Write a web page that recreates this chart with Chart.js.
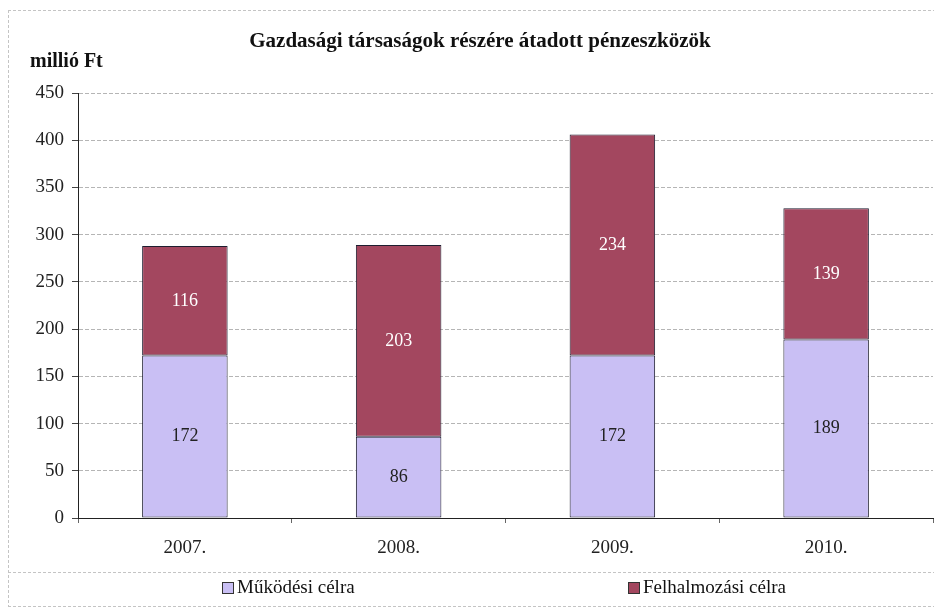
<!DOCTYPE html>
<html>
<head>
<meta charset="utf-8">
<script src="https://cdn.jsdelivr.net/npm/chart.js@4.4.1/dist/chart.umd.min.js"></script>
<style>
  html, body { margin: 0; padding: 0; background: #fff; }
  #wrap { width: 934px; height: 611px; position: relative; }
</style>
</head>
<body>
<div id="wrap"><canvas id="c" width="934" height="611"></canvas></div>
<script>
const years = ['2007.', '2008.', '2009.', '2010.'];
const mukodesi = [172, 86, 172, 189];
const felhalmozasi = [116, 203, 234, 139];
const yTicks = [0, 50, 100, 150, 200, 250, 300, 350, 400, 450];

const serif = '"Liberation Serif", "Times New Roman", serif';

// value labels, title, unit text, legend and the frame lines
const extras = {
  id: 'extras',
  afterDatasetsDraw(chart) {
    const ctx = chart.ctx;
    ctx.save();
    ctx.font = '18px ' + serif;
    ctx.textAlign = 'center';
    ctx.textBaseline = 'middle';
    chart.data.datasets.forEach((ds, di) => {
      const meta = chart.getDatasetMeta(di);
      meta.data.forEach((bar, i) => {
        ctx.fillStyle = di === 0 ? '#222' : '#fff';
        ctx.fillText(ds.data[i], bar.x, (bar.y + bar.base) / 2);
      });
    });
    ctx.restore();
  },
  afterDraw(chart) {
    const ctx = chart.ctx;
    ctx.save();
    // frame
    ctx.strokeStyle = '#c4c4c4';
    ctx.lineWidth = 1;
    ctx.setLineDash([3, 2]);
    ctx.beginPath();
    ctx.moveTo(8, 10.5); ctx.lineTo(934, 10.5);
    ctx.moveTo(8.5, 10); ctx.lineTo(8.5, 607);
    ctx.moveTo(8, 572.5); ctx.lineTo(934, 572.5);
    ctx.moveTo(8, 606.5); ctx.lineTo(934, 606.5);
    ctx.stroke();
    ctx.setLineDash([]);

    ctx.fillStyle = '#111';
    ctx.textBaseline = 'middle';
    ctx.font = 'bold 21px ' + serif;
    ctx.textAlign = 'center';
    ctx.fillText('Gazdasági társaságok részére átadott pénzeszközök', 480, 42);
    ctx.textAlign = 'left';
    ctx.font = 'bold 20px ' + serif;
    ctx.fillText('millió Ft', 30, 62);

    // legend
    const items = [
      { text: 'Működési célra', color: '#c9bff4', x: 222 },
      { text: 'Felhalmozási célra', color: '#a3475f', x: 628 }
    ];
    ctx.font = '19px ' + serif;
    items.forEach(it => {
      ctx.fillStyle = it.color;
      ctx.fillRect(it.x, 582, 11, 11);
      ctx.strokeStyle = '#333';
      ctx.strokeRect(it.x + 0.5, 582.5, 11, 11);
      ctx.fillStyle = '#111';
      ctx.fillText(it.text, it.x + 15, 588);
    });
    ctx.restore();
  }
};

new Chart(document.getElementById('c'), {
  type: 'bar',
  data: {
    labels: years,
    datasets: [
      {
        label: 'Működési célra',
        data: mukodesi,
        backgroundColor: '#c9bff4',
        borderColor: '#1e1e30',
        borderWidth: 1,
        borderSkipped: false,
        categoryPercentage: 1,
        barPercentage: 0.4
      },
      {
        label: 'Felhalmozási célra',
        data: felhalmozasi,
        backgroundColor: '#a3475f',
        borderColor: '#1e1e30',
        borderWidth: 1,
        borderSkipped: false,
        categoryPercentage: 1,
        barPercentage: 0.4
      }
    ]
  },
  options: {
    responsive: false,
    animation: false,
    layout: { padding: { top: 93, right: 1, left: 0, bottom: 0 } },
    plugins: {
      legend: { display: false },
      title: { display: false },
      tooltip: { enabled: false }
    },
    scales: {
      x: {
        stacked: true,
        afterFit(scale) { scale.height = 93; },
        grid: { offset: true, drawOnChartArea: false, tickLength: 5, color: '#666' },
        border: { color: '#222' },
        ticks: { font: { family: serif, size: 19 }, color: '#222', padding: 14 }
      },
      y: {
        stacked: true,
        min: 0,
        max: 450,
        afterFit(scale) { scale.width = 78; },
        afterBuildTicks(scale) { scale.ticks = yTicks.map(v => ({ value: v })); },
        grid: {
          color: '#b5b5b5',
          tickColor: '#444',
          tickLength: 6,
          tickBorderDash: [],
        },
        border: { color: '#222', dash: [4, 2] },
        ticks: { font: { family: serif, size: 19 }, color: '#222', padding: 8 }
      }
    }
  },
  plugins: [extras]
});
</script>
</body>
</html>
